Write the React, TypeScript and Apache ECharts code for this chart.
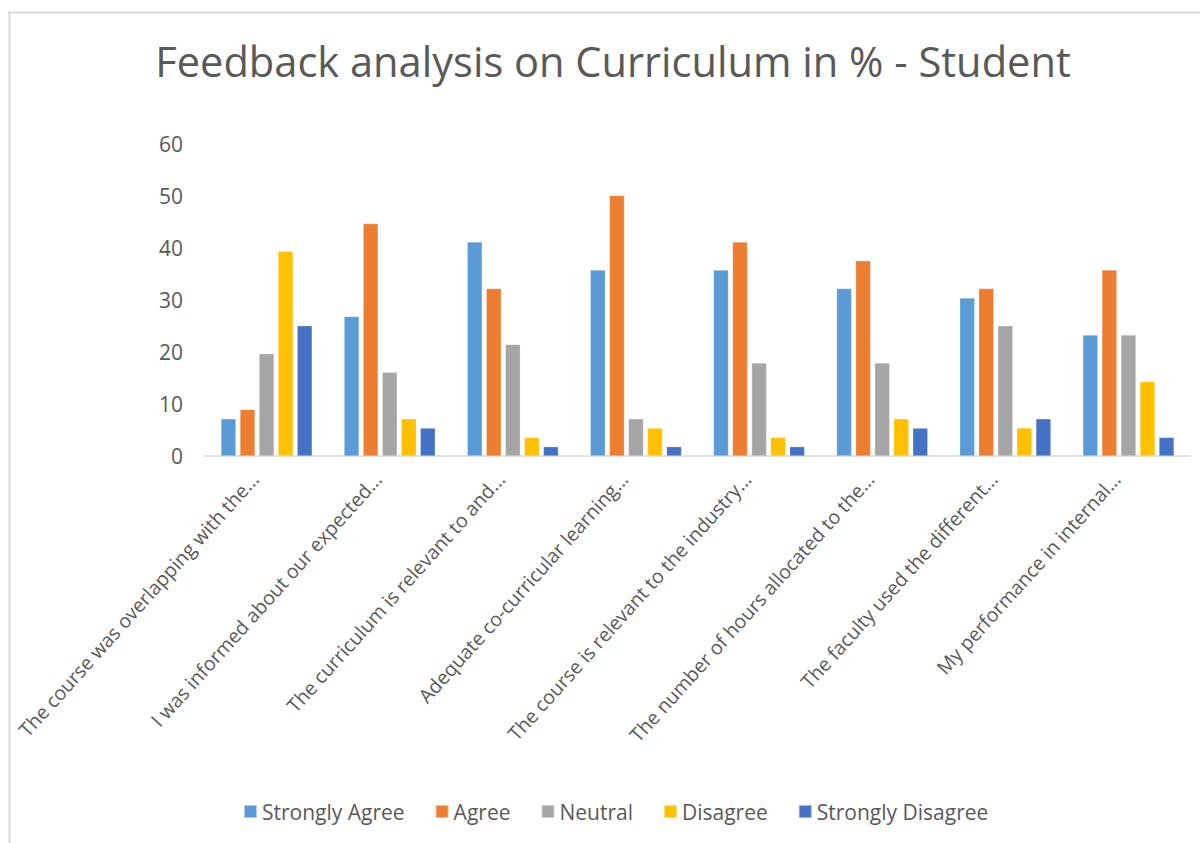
import React, { useEffect, useRef } from "react";
import * as echarts from "echarts";

const categories = [
  "The course was overlapping with the...",
  "I was informed about our expected...",
  "The curriculum is relevant to and...",
  "Adequate co-curricular learning...",
  "The course is relevant to the industry...",
  "The number of hours allocated to the...",
  "The faculty used the different...",
  "My performance in internal...",
];

const stronglyAgree = [7.14, 26.79, 41.07, 35.71, 35.71, 32.14, 30.36, 23.21];
const agree = [8.93, 44.64, 32.14, 50.0, 41.07, 37.5, 32.14, 35.71];
const neutral = [19.64, 16.07, 21.43, 7.14, 17.86, 17.86, 25.0, 23.21];
const disagree = [39.29, 7.14, 3.57, 5.36, 3.57, 7.14, 5.36, 14.29];
const stronglyDisagree = [25.0, 5.36, 1.79, 1.79, 1.79, 5.36, 7.14, 3.57];

const seriesNames = ["Strongly Agree", "Agree", "Neutral", "Disagree", "Strongly Disagree"];
const seriesData = [stronglyAgree, agree, neutral, disagree, stronglyDisagree];
const colors = ["#5B9BD5", "#ED7D31", "#A5A5A5", "#FFC000", "#4472C4"];

const FONT = "'Open Sans', sans-serif";

export default function App() {
  const ref = useRef<HTMLDivElement>(null);
  useEffect(() => {
    if (!ref.current) return;
    const chart = echarts.init(ref.current, undefined, { renderer: "svg" });
    chart.setOption({
      animation: false,
      backgroundColor: "#ffffff",
      color: colors,
      title: {
        text: "Feedback analysis on Curriculum in % - Student",
        left: 608,
        textAlign: "center",
        top: 35,
        textStyle: { fontFamily: FONT, fontSize: 41.6, fontWeight: "normal", color: "#595959" },
      },
      legend: {
        bottom: 16,
        left: 238,
        itemWidth: 13,
        itemHeight: 13,
        itemGap: 30,
        icon: "rect",
        textStyle: { fontFamily: FONT, fontSize: 21, color: "#595959" },
        data: seriesNames,
      },
      grid: { left: 205, right: 10, top: 143.5, bottom: 387, containLabel: false },
      xAxis: {
        type: "category",
        data: categories,
        axisLine: { lineStyle: { color: "#d9d9d9", width: 1.5 } },
        axisTick: { show: false },
        axisLabel: {
          interval: 0,
          rotate: 48,
          margin: 6,
          formatter: (v: string) => "{a|" + v + "}",
          rich: {
            a: {
              fontFamily: FONT,
              fontSize: 19.5,
              color: "#595959",
              padding: [0, 18, 0, 0],
            },
          },
        },
      },
      yAxis: {
        type: "value",
        min: 0,
        max: 60,
        interval: 10,
        axisLine: { show: false },
        axisTick: { show: false },
        splitLine: { show: false },
        axisLabel: { margin: 22, fontFamily: FONT, fontSize: 21, color: "#595959" },
      },
      graphic: [
        {
          type: "rect",
          shape: { x: 9.5, y: 12.5, width: 1300, height: 1000 },
          style: { fill: "none", stroke: "#d9d9d9", lineWidth: 2 },
          silent: true,
        },
      ],
      series: seriesNames.map((name, i) => ({
        name,
        type: "bar",
        data: seriesData[i],
        barWidth: 15,
        barGap: "27%",
        itemStyle: { color: colors[i], borderColor: "rgba(255,255,255,0.5)", borderWidth: 0.5 },
      })),
    });
    return () => chart.dispose();
  }, []);
  return (
    <div
      ref={ref}
      style={{ position: "absolute", left: 0, top: 0, width: 1200, height: 843 }}
    />
  );
}
